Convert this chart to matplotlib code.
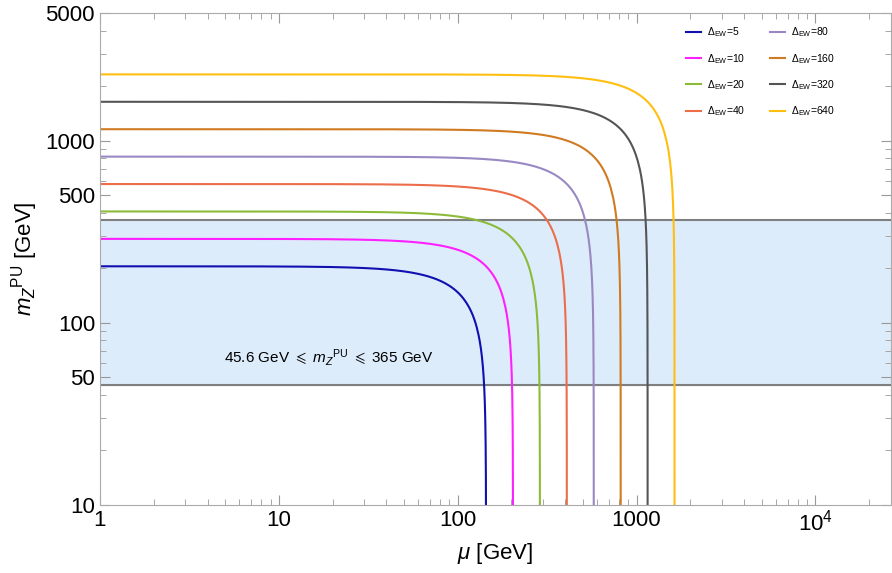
import numpy as np
import matplotlib.pyplot as plt
from matplotlib.ticker import FixedLocator, FixedFormatter, LogLocator, NullFormatter

plt.rcParams['font.family'] = ['Liberation Sans', 'DejaVu Sans']
plt.rcParams['mathtext.fontset'] = 'custom'
plt.rcParams['mathtext.rm'] = 'Liberation Sans'
plt.rcParams['mathtext.it'] = 'Liberation Sans:italic'
plt.rcParams['mathtext.fallback'] = 'stixsans'

# Data: electroweak fine-tuning levels and Z mass
delta_ew = [5, 10, 20, 40, 80, 160, 320, 640]
colors = ['#1010b0', '#ff20ff', '#8cbb3a', '#ec6d4a', '#9a88c4', '#d07a22', '#555555', '#ffbe10']
m_z = 91.1876
band_low, band_high = 45.6, 365.0

x_ticks = [1, 10, 100, 1000, 1e4]
x_labels = ['1', '10', '100', '1000', r'$10^4$']
y_ticks = [10, 50, 100, 500, 1000, 5000]
y_labels = ['10', '50', '100', '500', '1000', '5000']

fig, ax = plt.subplots(figsize=(8.92, 5.73), dpi=100)
fig.subplots_adjust(left=0.112, right=0.999, bottom=0.119, top=0.977)

# shaded band
ax.axhspan(band_low, band_high, color='#ddecfb', zorder=0)
ax.axhline(band_low, color='#7f7f7f', lw=1.5, zorder=1)
ax.axhline(band_high, color='#7f7f7f', lw=1.5, zorder=1)

for d, c in zip(delta_ew, colors):
    mu_max = np.sqrt(d / 2) * m_z
    mu = np.concatenate([np.logspace(0, np.log10(mu_max * 0.9), 300),
                         mu_max * (1 - np.logspace(-1, -8, 400))])
    m = np.sqrt(d * m_z**2 - 2 * mu**2)
    ax.plot(mu, m, color=c, lw=1.5, label=r'$\Delta_{\rm EW}$=%d' % d, zorder=2)

ax.set_xscale('log')
ax.set_yscale('log')
ax.set_xlim(1, 2.65e4)
ax.set_ylim(10, 5000)

ax.xaxis.set_major_locator(FixedLocator(x_ticks))
ax.xaxis.set_major_formatter(FixedFormatter(x_labels))
ax.yaxis.set_major_locator(FixedLocator(y_ticks))
ax.yaxis.set_major_formatter(FixedFormatter(y_labels))
ax.xaxis.set_minor_locator(LogLocator(base=10, subs=np.arange(2, 10)))
ax.yaxis.set_minor_locator(LogLocator(base=10, subs=np.arange(2, 10)))
ax.xaxis.set_minor_formatter(NullFormatter())
ax.yaxis.set_minor_formatter(NullFormatter())

ax.tick_params(which='both', direction='in', top=True, right=True, colors='#999999',
               labelcolor='black', labelsize=16)
ax.tick_params(which='major', length=7, width=0.8)
ax.tick_params(which='minor', length=4, width=0.6)
for s in ax.spines.values():
    s.set_color('#aaaaaa')
    s.set_linewidth(0.8)

ax.set_xlabel(r'$\mu$ [GeV]', fontsize=16)
ax.set_ylabel(r'$m_Z{}^{\rm PU}$ [GeV]', fontsize=16, labelpad=4)

ax.text(19, 64, r'45.6 GeV $\leqslant$ $m_Z{}^{\rm PU}$ $\leqslant$ 365 GeV',
        ha='center', va='center', fontsize=11)

leg = ax.legend(ncol=2, loc='upper left', bbox_to_anchor=(0.741, 0.975), frameon=False,
                borderaxespad=0, borderpad=0, fontsize=7.5, handlelength=1.4,
                handletextpad=0.6, labelspacing=1.2, columnspacing=2.4)

fig.savefig('out.png')
